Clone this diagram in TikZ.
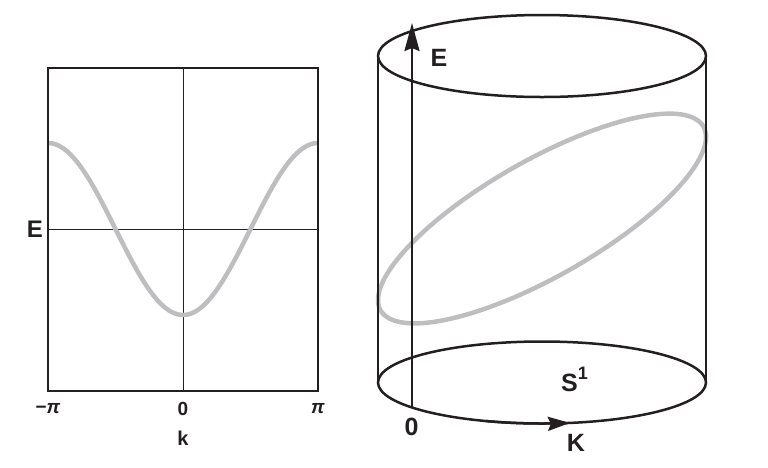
\documentclass[tikz,border=0pt]{standalone}
\usepackage{fontspec}
\setmainfont{Liberation Sans}
\usetikzlibrary{arrows.meta}
\definecolor{ink}{RGB}{35,31,32}
\definecolor{curvegray}{RGB}{190,190,192}
\begin{document}
\begin{tikzpicture}[x=1pt,y=-1pt,
  frame/.style={draw=ink, line width=1.9pt},
  gridline/.style={draw=ink, line width=0.85pt},
  cyl/.style={draw=ink, line width=2.5pt},
  band/.style={draw=curvegray, line width=4.5pt},
  biglab/.style={text=ink, inner sep=0pt, font=\bfseries\fontsize{25}{25}\selectfont},
  midlab/.style={text=ink, inner sep=0pt, font=\bfseries\fontsize{24}{24}\selectfont},
  ticklab/.style={text=ink, inner sep=0pt, font=\bfseries\fontsize{19}{19}\selectfont},
  bigtip/.style={-{Stealth[length=28pt,width=15pt,inset=3pt]}},
  midtip/.style={-{Stealth[length=22pt,width=14pt,inset=3pt]}}]
\path[use as bounding box] (0,0) rectangle (768,467);
% ---------- left panel ----------
\coordinate (bl) at (48,391);
\coordinate (tr) at (318,68);
\coordinate (vtop) at (183,68);
\coordinate (vbot) at (183,391);
\coordinate (hl) at (48,229);
\coordinate (hr) at (318,229);
\draw[gridline] (vtop) -- (vbot);
\draw[gridline] (hl) -- (hr);
\draw[band] plot[domain=-180:180, samples=120, smooth] ({183+0.75*\x},{229+86*cos(\x)});
\draw[frame] (bl) rectangle (tr);
\node[midlab] (elab) at (35,229) {E};
\node[ticklab] (mpi) at (48,408.5) {−\textit{π}};
\node[ticklab] (zero) at (183,408.5) {0};
\node[ticklab] (ppi) at (318,408.5) {\textit{π}};
\node[ticklab, font=\bfseries\fontsize{20}{20}\selectfont] (klab) at (183,438) {k};
% ---------- cylinder ----------
\draw[band] plot[domain=0:360, samples=160, smooth] ({542+164*cos(\x)},{218.5-81.5*cos(\x)+66*sin(\x)}) -- cycle;
\coordinate (topc) at (542,56);
\coordinate (botc) at (542,382.5);
\coordinate (tl) at (378,56);
\coordinate (tr2) at (706,56);
\coordinate (bl2) at (378,382.5);
\coordinate (br2) at (706,382.5);
\draw[cyl] (topc) ellipse [x radius=164pt, y radius=41pt];
\draw[cyl] (botc) ellipse [x radius=164pt, y radius=41pt];
\draw[cyl] (tl) -- (bl2);
\draw[cyl] (tr2) -- (br2);
\coordinate (origin) at (412,406.5);
\coordinate (etip) at (412,23);
\draw[cyl, bigtip] (origin) -- (etip);
\draw[cyl, midtip] plot[domain=110:80.2, samples=20, smooth] ({542+164*cos(\x)},{382.5+41*sin(\x)});
\node[biglab] (Elab) at (439,58) {E};
\node[biglab] (olab) at (411.5,427) {0};
\node[biglab] (Klab) at (576,442.5) {K};
\node[biglab, anchor=base west] (slab) at (561,391) {S\raisebox{0.45em}{\fontsize{18}{18}\selectfont\bfseries 1}};
\end{tikzpicture}
\end{document}
